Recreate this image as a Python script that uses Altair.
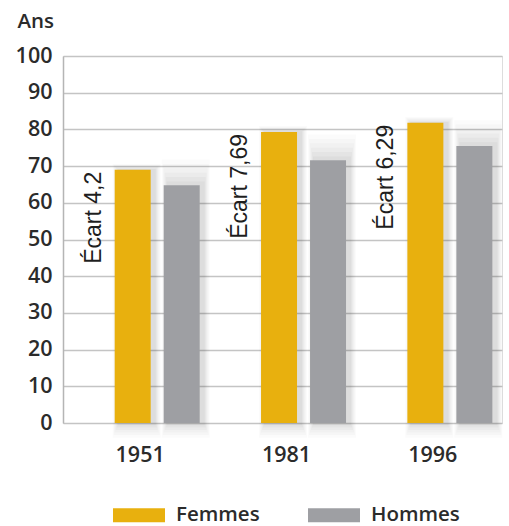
import altair as alt
import pandas as pd

# Espérance de vie à la naissance (années)
years = ["1951", "1981", "1996"]
femmes = [69.0, 79.3, 81.8]
hommes = [64.8, 71.61, 75.51]
series = ["Femmes", "Hommes"]
colors = ["#E8B00E", "#9E9FA3"]
y_ticks = [0, 10, 20, 30, 40, 50, 60, 70, 80, 90, 100]

FONT = "Open Sans"


def fmt_gap(v):
    s = f"{v:.2f}".rstrip("0").rstrip(".")
    return "Écart " + s.replace(".", ",")


rows = []
for yr, f, h in zip(years, femmes, hommes):
    rows.append({"annee": yr, "sexe": "Femmes", "age": f})
    rows.append({"annee": yr, "sexe": "Hommes", "age": h})
bars_df = pd.DataFrame(rows)

gaps_df = pd.DataFrame({
    "annee": years,
    "sexe": ["Femmes"] * len(years),
    "age": femmes,
    "ecart": [fmt_gap(f - h) for f, h in zip(femmes, hommes)],
})

# soft drop shadow: translucent, progressively larger copies of the bars
shadow_layers = [
    # (bar width px, extra years above Femmes, above Hommes, below zero, opacity)
    (48, 1.6, 7.0, 4.0, 0.018),
    (46, 1.3, 5.8, 3.3, 0.022),
    (44, 1.0, 4.6, 2.6, 0.026),
    (42, 0.7, 3.4, 1.9, 0.03),
    (40, 0.4, 2.2, 1.2, 0.035),
    (38, 0.2, 1.0, 0.6, 0.04),
]
SHIFT = 4.0
F_CENTER, H_CENTER = 69.7, 118.7  # centre of each bar inside its year band
STEP = H_CENTER - F_CENTER

x_enc = alt.X(
    "annee:N",
    scale=alt.Scale(domain=years, paddingInner=0, paddingOuter=0),
    axis=alt.Axis(
        title=None, domain=False, ticks=False, labelAngle=0,
        labelFont=FONT, labelFontSize=21.5, labelFontWeight=600,
        labelColor="#2b2b2b", labelPadding=21, labelBaseline="top",
        labelOffset=4,
    ),
)

y_scale = alt.Scale(domain=[0, 100], nice=False, zero=True)
y_axis = alt.Axis(
    values=y_ticks, grid=True, gridColor="#c4c4c4", gridWidth=1.5,
    domainColor="#b5b5b5", domainWidth=1.5, ticks=False,
    labelOverlap=False,
    labelFont=FONT, labelFontSize=21.5, labelFontWeight=600,
    labelColor="#2b2b2b", labelPadding=11,
    title="Ans", titleAngle=0, titleAlign="left",
    titleBaseline="alphabetic", titleX=-46, titleY=-29,
    titleFont=FONT, titleFontSize=20.5, titleFontWeight=600,
    titleColor="#2b2b2b",
)


def offset_enc(width, shift):
    a = F_CENTER + shift - width / 2
    b = H_CENTER + shift + width / 2
    return alt.XOffset(
        "sexe:N",
        scale=alt.Scale(domain=series, range=[a, b],
                        paddingInner=1 - width / STEP, paddingOuter=0),
    )


layers = []
for w, up_f, up_h, down, op in shadow_layers:
    sdf = bars_df.copy()
    sdf["haut"] = [a + (up_f if s == "Femmes" else up_h)
                   for a, s in zip(sdf["age"], sdf["sexe"])]
    sdf["bas"] = -down
    layers.append(
        alt.Chart(sdf).mark_bar(color="#3a3a3a", opacity=op).encode(
            x=x_enc,
            xOffset=offset_enc(w, SHIFT),
            y=alt.Y("haut:Q", scale=y_scale, axis=y_axis),
            y2="bas:Q",
        )
    )

bars = alt.Chart(bars_df).mark_bar().encode(
    x=x_enc,
    xOffset=offset_enc(36, 0),
    y=alt.Y("age:Q", scale=y_scale, axis=y_axis),
    color=alt.Color(
        "sexe:N",
        scale=alt.Scale(domain=series, range=colors),
        legend=alt.Legend(
            title=None, orient="none", direction="horizontal",
            legendX=50, legendY=433, padding=0,
            symbolType="M-1,-0.27H1V0.27H-1Z", symbolSize=2704,
            symbolStrokeWidth=0, symbolOpacity=1,
            labelFont=FONT, labelFontSize=20.5, labelFontWeight=600,
            labelColor="#2b2b2b", labelOffset=11, columnPadding=48,
        ),
    ),
)

labels = alt.Chart(gaps_df).mark_text(
    angle=270, align="right", baseline="alphabetic", dy=-14, dx=-2,
    font="Liberation Sans", fontSize=23, color="#1e1e1e",
).encode(
    x=x_enc,
    xOffset=offset_enc(36, 0),
    y=alt.Y("age:Q", scale=y_scale, axis=y_axis),
    text="ecart:N",
)

chart = alt.layer(*layers, bars, labels).resolve_scale(
    xOffset="independent"
).properties(
    width=439,
    height=367,
    autosize=alt.AutoSizeParams(type="none"),
    padding={"left": 63, "top": 56, "right": 7, "bottom": 103},
).configure_view(stroke=None).configure(background="white")

chart.save("out.html", embed_options={"renderer": "svg", "actions": False})
